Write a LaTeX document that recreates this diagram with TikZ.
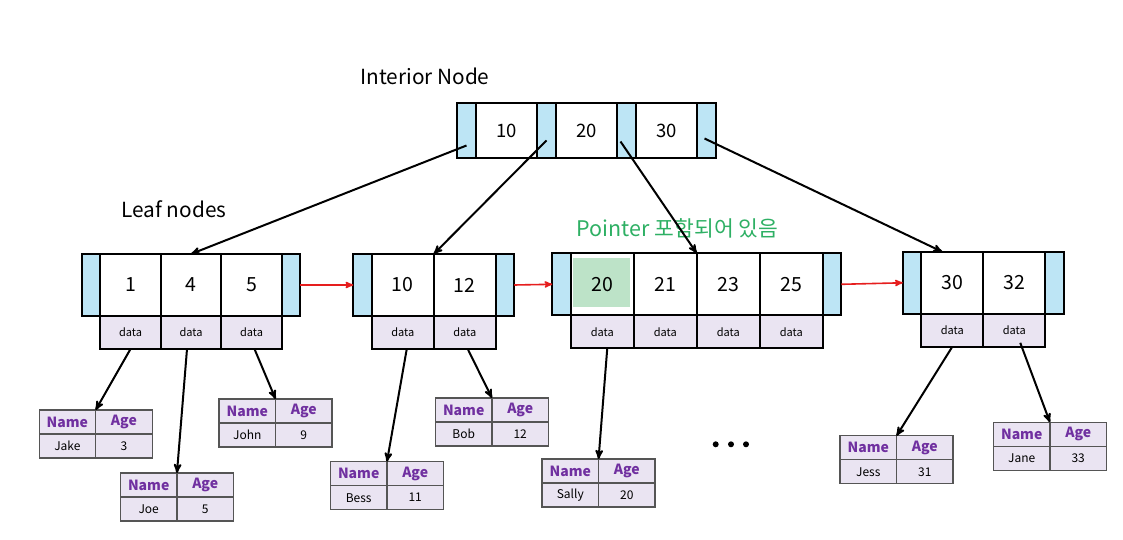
\documentclass[tikz,border=0pt]{standalone}
\usepackage{fontspec}
\setmainfont{Noto Sans CJK KR}
\usetikzlibrary{arrows,positioning}
\definecolor{ptrblue}{RGB}{189,229,245}
\definecolor{datapurple}{RGB}{234,228,242}
\definecolor{keygreen}{RGB}{189,227,200}
\definecolor{namepurple}{RGB}{112,48,160}
\definecolor{notegreen}{RGB}{46,176,100}
\definecolor{linkred}{RGB}{230,30,30}
\definecolor{recgray}{RGB}{85,85,85}

\begin{document}
\begin{tikzpicture}[x=1pt,y=-1pt,->,>=stealth',
  every node/.style={outer sep=0pt,inner sep=0pt},
  ptr node/.style={rectangle,draw,line width=2pt,fill=ptrblue,
    minimum width=18.5pt,minimum height=62pt},
  key node/.style={rectangle,draw,line width=2pt,fill=white,
    font=\fontsize{19.5}{19.5}\selectfont,minimum width=#1,minimum height=62pt},
  key node/.default=62pt,
  data node/.style={rectangle,draw,line width=2pt,fill=datapurple,
    font=\fontsize{11}{11}\selectfont,minimum width=#1,minimum height=33pt},
  data node/.default=62pt,
  iptr node/.style={ptr node,minimum width=19pt,minimum height=54.5pt},
  ikey node/.style={key node=61pt,minimum height=54.5pt,
    font=\fontsize{18.5}{18.5}\selectfont},
  head node/.style={rectangle,draw=recgray,line width=1.2pt,fill=datapurple,
    font=\fontsize{14}{14}\selectfont\bfseries,text=namepurple,
    minimum width=56.5pt,minimum height=24pt},
  rec node/.style={head node,font=\fontsize{12}{12}\selectfont,text=black},
  title node/.style={font=\fontsize{20.8}{20.8}\selectfont},
  dot node/.style={circle,fill=black,minimum size=6pt}]

  \useasboundingbox[fill=white] (0,0) rectangle (1123,540);

  \node[title node] (INTTITLE) at (425,76) {Interior Node};
  \node[title node] (LEAFTITLE) at (174,209.5) {Leaf nodes};
  \node[title node,text=notegreen,font=\fontsize{21.5}{21.5}\selectfont]
    (PTRNOTE) at (677.5,228) {Pointer 포함되어 있음};

  \node[iptr node] (IP1) at (466.5,130.5) {};
  \node[ikey node] (IK10) [right=0pt of IP1] {10};
  \node[iptr node] (IP2) [right=0pt of IK10] {};
  \node[ikey node] (IK20) [right=0pt of IP2] {20};
  \node[iptr node] (IP3) [right=0pt of IK20] {};
  \node[ikey node] (IK30) [right=0pt of IP3] {30};
  \node[iptr node] (IP4) [right=0pt of IK30] {};

  \node[ptr node] (L1P1) at (91,285) {};
  \node[key node=60.5pt] (L1K1) [right=0pt of L1P1] {1};
  \node[key node=60.5pt] (L1K4) [right=0pt of L1K1] {4};
  \node[key node=60.5pt] (L1K5) [right=0pt of L1K4] {5};
  \node[ptr node] (L1P2) [right=0pt of L1K5] {};
  \node[data node=60.5pt] (L1D1) [below=0pt of L1K1] {data};
  \node[data node=60.5pt] (L1D4) [below=0pt of L1K4] {data};
  \node[data node=60.5pt] (L1D5) [below=0pt of L1K5] {data};

  \node[ptr node] (L2P1) at (362.5,285) {};
  \node[key node] (L2K10) [right=0pt of L2P1] {10};
  \node[key node] (L2K12) [right=0pt of L2K10] {12};
  \node[ptr node] (L2P2) [right=0pt of L2K12] {};
  \node[data node] (L2D10) [below=0pt of L2K10] {data};
  \node[data node] (L2D12) [below=0pt of L2K12] {data};

  \node[ptr node] (L3P1) at (561.5,284.3) {};
  \node[key node=63pt,path picture={\fill[keygreen]
      ([xshift=2.5pt,yshift=8pt]path picture bounding box.south west) rectangle
      ([xshift=-3.5pt,yshift=-5pt]path picture bounding box.north east);}]
    (L3K20) [right=0pt of L3P1] {20};
  \node[key node=63pt] (L3K21) [right=0pt of L3K20] {21};
  \node[key node=63pt] (L3K23) [right=0pt of L3K21] {23};
  \node[key node=63pt] (L3K25) [right=0pt of L3K23] {25};
  \node[ptr node] (L3P2) [right=0pt of L3K25] {};
  \node[data node=63pt] (L3D20) [below=0pt of L3K20] {data};
  \node[data node=63pt] (L3D21) [below=0pt of L3K21] {data};
  \node[data node=63pt] (L3D23) [below=0pt of L3K23] {data};
  \node[data node=63pt] (L3D25) [below=0pt of L3K25] {data};

  \node[ptr node] (L4P1) at (912,282.8) {};
  \node[key node] (L4K30) [right=0pt of L4P1] {30};
  \node[key node] (L4K32) [right=0pt of L4K30] {32};
  \node[ptr node] (L4P2) [right=0pt of L4K32] {};
  \node[data node] (L4D30) [below=0pt of L4K30] {data};
  \node[data node] (L4D32) [below=0pt of L4K32] {data};

  \node[head node] (JAKEN) at (67.4,422) {Name};
  \node[head node] (JAKEA) [right=0pt of JAKEN] {Age};
  \node[rec node] (JAKEV) [below=0pt of JAKEN] {Jake};
  \node[rec node] (JAKEW) [below=0pt of JAKEA] {3};

  \node[head node] (JOEN) at (148.7,485) {Name};
  \node[head node] (JOEA) [right=0pt of JOEN] {Age};
  \node[rec node] (JOEV) [below=0pt of JOEN] {Joe};
  \node[rec node] (JOEW) [below=0pt of JOEA] {5};

  \node[head node] (JOHNN) at (247.3,411) {Name};
  \node[head node] (JOHNA) [right=0pt of JOHNN] {Age};
  \node[rec node] (JOHNV) [below=0pt of JOHNN] {John};
  \node[rec node] (JOHNW) [below=0pt of JOHNA] {9};

  \node[head node] (BESSN) at (358.7,473.7) {Name};
  \node[head node] (BESSA) [right=0pt of BESSN] {Age};
  \node[rec node] (BESSV) [below=0pt of BESSN] {Bess};
  \node[rec node] (BESSW) [below=0pt of BESSA] {11};

  \node[head node] (BOBN) at (463.7,410) {Name};
  \node[head node] (BOBA) [right=0pt of BOBN] {Age};
  \node[rec node] (BOBV) [below=0pt of BOBN] {Bob};
  \node[rec node] (BOBW) [below=0pt of BOBA] {12};

  \node[head node] (SALLYN) at (570.3,471) {Name};
  \node[head node] (SALLYA) [right=0pt of SALLYN] {Age};
  \node[rec node] (SALLYV) [below=0pt of SALLYN] {Sally};
  \node[rec node] (SALLYW) [below=0pt of SALLYA] {20};

  \node[head node] (JESSN) at (868.3,447.8) {Name};
  \node[head node] (JESSA) [right=0pt of JESSN] {Age};
  \node[rec node] (JESSV) [below=0pt of JESSN] {Jess};
  \node[rec node] (JESSW) [below=0pt of JESSA] {31};

  \node[head node] (JANEN) at (1021.7,434.3) {Name};
  \node[head node] (JANEA) [right=0pt of JANEN] {Age};
  \node[rec node] (JANEV) [below=0pt of JANEN] {Jane};
  \node[rec node] (JANEW) [below=0pt of JANEA] {33};

  \node[dot node] (DOT1) at (715.7,444.3) {};
  \node[dot node] (DOT2) at (731,444.3) {};
  \node[dot node] (DOT3) at (746,444.3) {};

  \path[line width=2pt]
    ([yshift=-15pt]IP1.center) edge (L1K4.north)
    ([yshift=-10pt]IP2.center) edge (L2K10.north east)
    ([xshift=-6pt,yshift=-11pt]IP3.center) edge (L3K23.north west)
    ([xshift=-2pt,yshift=-8pt]IP4.center) edge ([xshift=-10pt]L4K30.north)
    (L1D1.south) edge (JAKEN.north east)
    ([xshift=-4pt]L1D4.south) edge (JOEN.north east)
    ([xshift=3pt]L1D5.south) edge (JOHNN.north east)
    ([xshift=4pt]L2D10.south) edge (BESSN.north east)
    ([xshift=3pt]L2D12.south) edge (BOBN.north east)
    ([xshift=5pt]L3D20.south) edge (SALLYN.north east)
    (L4D30.south) edge (JESSN.north east)
    ([xshift=6pt,yshift=4pt]L4D32.south) edge (JANEN.north east);

  \path[linkred,line width=1.6pt]
    (L1P2.east) edge (L2P1.west)
    (L2P2.east) edge (L3P1.west)
    (L3P2.east) edge (L4P1.west);
\end{tikzpicture}
\end{document}
